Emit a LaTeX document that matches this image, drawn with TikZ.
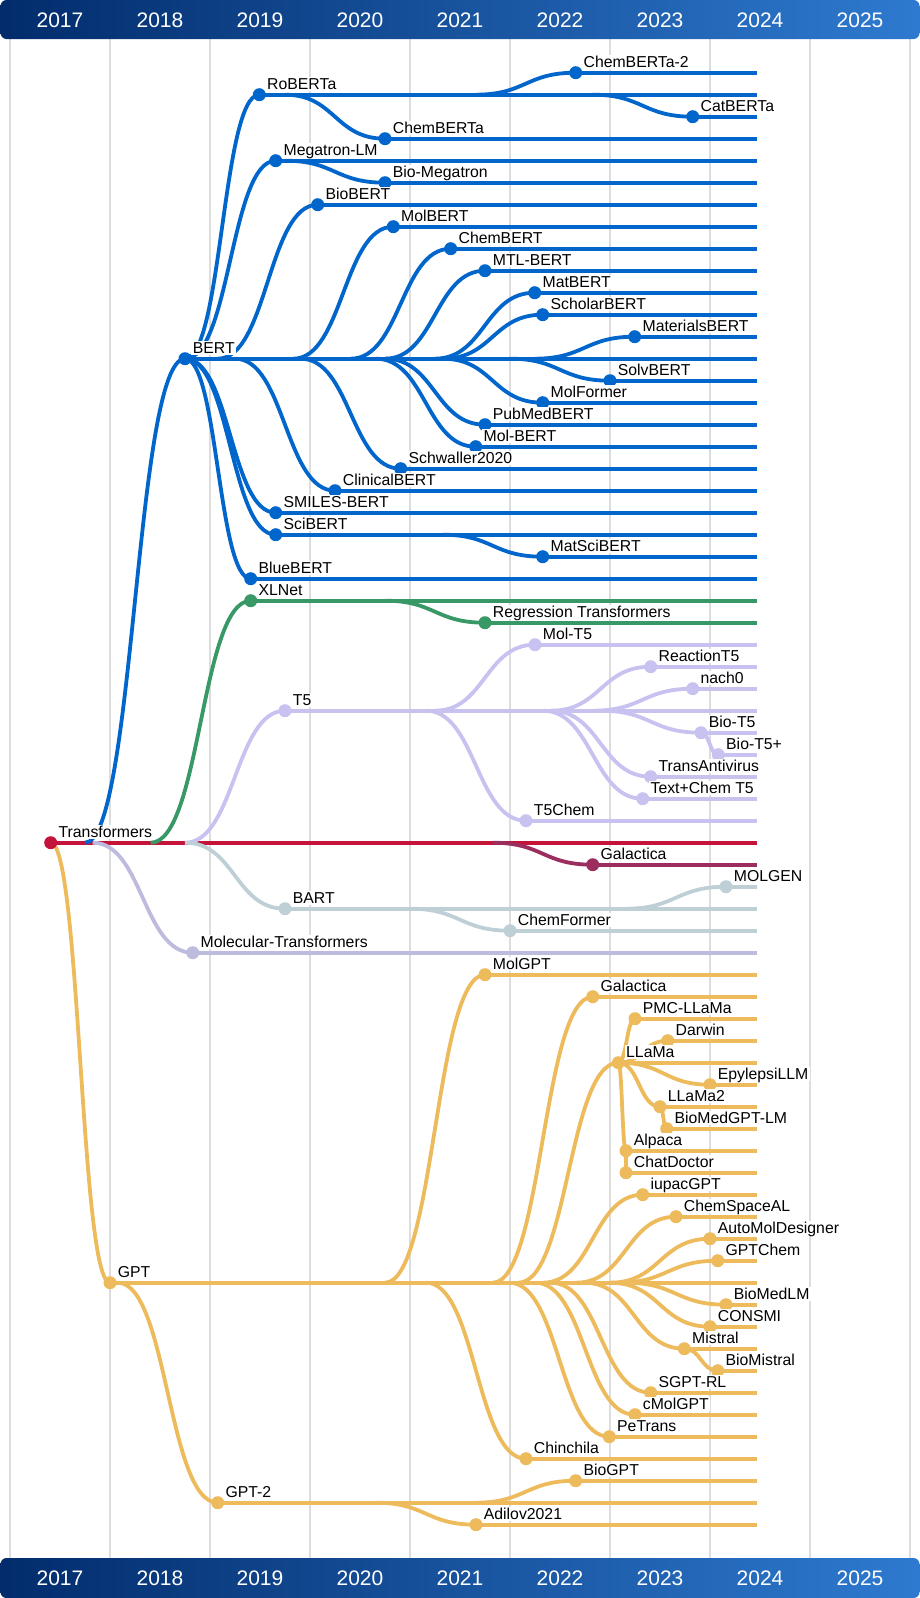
\documentclass[tikz,border=0pt]{standalone}
\usepackage{fontspec}
\setmainfont{Liberation Sans}
\usetikzlibrary{calc}

\definecolor{bertblue}{RGB}{0,102,204}
\definecolor{xlgreen}{RGB}{56,152,102}
\definecolor{tfivelav}{RGB}{200,194,240}
\definecolor{tfred}{RGB}{196,20,58}
\definecolor{galred}{RGB}{155,45,95}
\definecolor{bartgray}{RGB}{190,208,214}
\definecolor{moltrlav}{RGB}{190,188,222}
\definecolor{gptgold}{RGB}{237,186,92}
\definecolor{barleft}{RGB}{2,44,108}
\definecolor{barright}{RGB}{46,122,208}
\definecolor{gridgray}{RGB}{221,221,221}

\pgfdeclarelayer{grid}
\pgfdeclarelayer{lines}
\pgfsetlayers{grid,lines,main}

% one model: id, x, row, colour, label
\newcommand{\model}[5]{%
  \node[dot, fill=#4] (#1) at (#2,{72.7+22*#3}) {};
  \node[lbl] (#1lbl) at ([shift={(6.2,-5)}]#1) {#5};
  \begin{pgfonlayer}{lines}
    \draw[branch, #4] (#1.center) -- (#1.center -| lineend);
  \end{pgfonlayer}
}

\begin{document}
\begin{tikzpicture}[
    x=1pt, y=-1pt,
    dot/.style={circle, minimum size=13pt, inner sep=0pt},
    lbl/.style={anchor=base west, fill=white, inner sep=1.5pt, text depth=0pt,
                font=\fontsize{15.8}{18}\selectfont},
    yearlbl/.style={text=white, font=\fontsize{21}{24}\selectfont},
    branch/.style={line width=3.8pt},
    gridline/.style={line width=1.5pt, gridgray},
    sbranch/.style={to path={
        let \p1=(\tikztostart), \p2=(\tikztotarget),
            \n1={max(\x1,\x2-100pt)}, \n2={(\n1+\x2)/2}
        in ({\n1*1pt},\y1) .. controls ({\n2*1pt},\y1) and ({\n2*1pt},\y2) .. (\p2)}},
  ]
  \useasboundingbox (0,0) rectangle (920,1598);
  \coordinate (lineend) at (757,0);

  % year bars
  \shade[rounded corners=6pt, left color=barleft, right color=barright]
    (0.5,0) rectangle (919.5,39);
  \shade[rounded corners=6pt, left color=barleft, right color=barright]
    (0.5,1558) rectangle (919.5,1598);
  \foreach \yr [count=\i from 0] in {2017,...,2025} {
    \node[yearlbl] at ({60+100*\i},20) {\yr};
    \node[yearlbl] at ({60+100*\i},1578) {\yr};
  }
  \begin{pgfonlayer}{grid}
    \foreach \i in {0,...,9}
      \draw[gridline] ({10+100*\i},39) -- ({10+100*\i},1558);
  \end{pgfonlayer}

  % models
  \model{transformers}{50.7}{35}{tfred}{Transformers}
  \model{bert}{185}{13}{bertblue}{BERT}
  \model{roberta}{259.3}{1}{bertblue}{RoBERTa}
  \model{chembertatwo}{575.7}{0}{bertblue}{ChemBERTa-2}
  \model{catberta}{692.7}{2}{bertblue}{CatBERTa}
  \model{chemberta}{385}{3}{bertblue}{ChemBERTa}
  \model{megatron}{275.7}{4}{bertblue}{Megatron-LM}
  \model{biomegatron}{385}{5}{bertblue}{Bio-Megatron}
  \model{biobert}{317.7}{6}{bertblue}{BioBERT}
  \model{molbert}{393.3}{7}{bertblue}{MolBERT}
  \model{chembert}{450.7}{8}{bertblue}{ChemBERT}
  \model{mtlbert}{485}{9}{bertblue}{MTL-BERT}
  \model{matbert}{534.7}{10}{bertblue}{MatBERT}
  \model{scholarbert}{542.7}{11}{bertblue}{ScholarBERT}
  \model{materialsbert}{634.7}{12}{bertblue}{MaterialsBERT}
  \model{solvbert}{610}{14}{bertblue}{SolvBERT}
  \model{molformer}{542.7}{15}{bertblue}{MolFormer}
  \model{pubmedbert}{485}{16}{bertblue}{PubMedBERT}
  \model{molbertb}{475.7}{17}{bertblue}{Mol-BERT}
  \model{schwaller}{400.7}{18}{bertblue}{Schwaller2020}
  \model{clinicalbert}{335}{19}{bertblue}{ClinicalBERT}
  \model{smilesbert}{275.7}{20}{bertblue}{SMILES-BERT}
  \model{scibert}{275.7}{21}{bertblue}{SciBERT}
  \model{matscibert}{542.7}{22}{bertblue}{MatSciBERT}
  \model{bluebert}{250.7}{23}{bertblue}{BlueBERT}
  \model{xlnet}{250.7}{24}{xlgreen}{XLNet}
  \model{regtrans}{485}{25}{xlgreen}{Regression Transformers}
  \model{moltfive}{535}{26}{tfivelav}{Mol-T5}
  \model{reactiontfive}{650.7}{27}{tfivelav}{ReactionT5}
  \model{nachzero}{692.7}{28}{tfivelav}{nach0}
  \model{tfive}{285}{29}{tfivelav}{T5}
  \model{biotfive}{701}{30}{tfivelav}{Bio-T5}
  \model{biotfiveplus}{718.3}{31}{tfivelav}{Bio-T5+}
  \model{transantivirus}{650.7}{32}{tfivelav}{TransAntivirus}
  \model{textchem}{642.7}{33}{tfivelav}{Text+Chem T5}
  \model{tfivechem}{526}{34}{tfivelav}{T5Chem}
  \model{galactica}{592.7}{36}{galred}{Galactica}
  \model{molgen}{726}{37}{bartgray}{MOLGEN}
  \model{bart}{285}{38}{bartgray}{BART}
  \model{chemformer}{510}{39}{bartgray}{ChemFormer}
  \model{moltrans}{192.7}{40}{moltrlav}{Molecular-Transformers}
  \model{molgpt}{485}{41}{gptgold}{MolGPT}
  \model{galacticagpt}{592.7}{42}{gptgold}{Galactica}
  \model{pmcllama}{635}{43}{gptgold}{PMC-LLaMa}
  \model{darwin}{667.7}{44}{gptgold}{Darwin}
  \model{llama}{618.3}{45}{gptgold}{LLaMa}
  \model{epylepsillm}{710}{46}{gptgold}{EpylepsiLLM}
  \model{llamatwo}{660}{47}{gptgold}{LLaMa2}
  \model{biomedgptlm}{666.7}{48}{gptgold}{BioMedGPT-LM}
  \model{alpaca}{626}{49}{gptgold}{Alpaca}
  \model{chatdoctor}{626}{50}{gptgold}{ChatDoctor}
  \model{iupacgpt}{642.7}{51}{gptgold}{iupacGPT}
  \model{chemspaceal}{676}{52}{gptgold}{ChemSpaceAL}
  \model{automol}{710}{53}{gptgold}{AutoMolDesigner}
  \model{gptchem}{717.7}{54}{gptgold}{GPTChem}
  \model{gpt}{110}{55}{gptgold}{GPT}
  \model{biomedlm}{726}{56}{gptgold}{BioMedLM}
  \model{consmi}{710}{57}{gptgold}{CONSMI}
  \model{mistral}{684.3}{58}{gptgold}{Mistral}
  \model{biomistral}{717.7}{59}{gptgold}{BioMistral}
  \model{sgptrl}{650.7}{60}{gptgold}{SGPT-RL}
  \model{cmolgpt}{635}{61}{gptgold}{cMolGPT}
  \model{petrans}{609.3}{62}{gptgold}{PeTrans}
  \model{chinchila}{526}{63}{gptgold}{Chinchila}
  \model{biogpt}{575.7}{64}{gptgold}{BioGPT}
  \model{gpttwo}{217.7}{65}{gptgold}{GPT-2}
  \model{adilov}{476}{66}{gptgold}{Adilov2021}

  \begin{pgfonlayer}{lines}
    % Transformers
    \draw[branch, bertblue] (transformers) to[sbranch] (bert);
    \draw[branch, xlgreen]  (transformers) to[sbranch] (xlnet);
    \draw[branch, tfivelav] (transformers) to[sbranch] (tfive);
    \draw[branch, galred]   (transformers) to[sbranch] (galactica);
    \draw[branch, bartgray] (transformers) to[sbranch] (bart);
    \draw[branch, moltrlav] (transformers) to[sbranch] (moltrans);
    \draw[branch, gptgold]  (transformers) to[sbranch] (gpt);

    % BERT family
    \foreach \kid in {roberta, megatron, biobert, molbert, chembert, mtlbert,
                      matbert, scholarbert, materialsbert, solvbert, molformer,
                      pubmedbert, molbertb, schwaller, clinicalbert, smilesbert,
                      scibert, bluebert}
      \draw[branch, bertblue] (bert) to[sbranch] (\kid);
    \draw[branch, bertblue] (roberta) to[sbranch] (chembertatwo);
    \draw[branch, bertblue] (roberta) to[sbranch] (catberta);
    \draw[branch, bertblue] (roberta) to[sbranch] (chemberta);
    \draw[branch, bertblue] (megatron) to[sbranch] (biomegatron);
    \draw[branch, bertblue] (scibert) to[sbranch] (matscibert);

    % XLNet, T5, BART
    \draw[branch, xlgreen] (xlnet) to[sbranch] (regtrans);
    \foreach \kid in {moltfive, reactiontfive, nachzero, biotfive,
                      transantivirus, textchem, tfivechem}
      \draw[branch, tfivelav] (tfive) to[sbranch] (\kid);
    \draw[branch, tfivelav] (biotfive) to[sbranch] (biotfiveplus);
    \draw[branch, bartgray] (bart) to[sbranch] (molgen);
    \draw[branch, bartgray] (bart) to[sbranch] (chemformer);

    % GPT family
    \foreach \kid in {molgpt, galacticagpt, llama, iupacgpt, chemspaceal,
                      automol, gptchem, biomedlm, consmi, mistral, sgptrl,
                      cmolgpt, petrans, chinchila, gpttwo}
      \draw[branch, gptgold] (gpt) to[sbranch] (\kid);
    \foreach \kid in {pmcllama, darwin, epylepsillm, llamatwo, alpaca}
      \draw[branch, gptgold] (llama) to[sbranch] (\kid);
    \draw[branch, gptgold] (llamatwo) to[sbranch] (biomedgptlm);
    \draw[branch, gptgold] (alpaca) to[sbranch] (chatdoctor);
    \draw[branch, gptgold] (mistral) to[sbranch] (biomistral);
    \draw[branch, gptgold] (gpttwo) to[sbranch] (biogpt);
    \draw[branch, gptgold] (gpttwo) to[sbranch] (adilov);
  \end{pgfonlayer}
\end{tikzpicture}
\end{document}
